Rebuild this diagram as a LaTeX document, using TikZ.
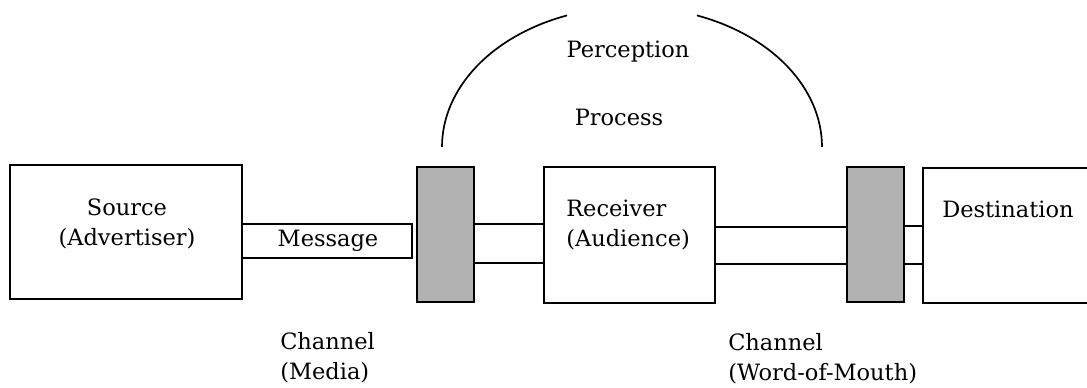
\documentclass[tikz,border=0pt]{standalone}
\usepackage{fontspec}
\setmainfont{DejaVu Serif}

\tikzset{
  box/.style={draw, line width=0.9pt, minimum width={#1}, minimum height={136*0.025cm}, inner sep=0pt},
  filter/.style={draw, line width=1.5pt, fill=black!30, minimum width={57*0.025cm}, minimum height={135*0.025cm}, inner sep=0pt},
  txt/.style={inner sep=0pt, font=\fontsize{16}{21.3}\selectfont}
}

\begin{document}
\begin{tikzpicture}[x=0.025cm, y=-0.025cm]
      % Picture size (pixels of the scan)
      \useasboundingbox (0,0) rectangle (1087,388);
      \clip (0,0) rectangle (1087,388);

      % Blocks of the chain
      \node[box=232*0.025cm, minimum height={134*0.025cm}] (source) at (126,232) {};
      \node[box=170*0.025cm, minimum height={34*0.025cm}] (message) at (327,241) {};
      \node[filter] (lfilter) at (445.5,234.5) {};
      \node[box=171*0.025cm] (receiver) at (629.5,235) {};
      \node[filter] (rfilter) at (875.5,234.5) {};
      \node[box=200*0.025cm, minimum height={135*0.025cm}] (dest) at (1023,235.5) {};

      % Double lines between the blocks
      \foreach \y in {224,263} {
        \draw[line width=0.9pt] (lfilter.east |- 0,\y) -- (receiver.west |- 0,\y);
      }
      \foreach \y in {227,264} {
        \draw[line width=0.9pt] (receiver.east |- 0,\y) -- (rfilter.west |- 0,\y);
      }
      \foreach \y in {226,264} {
        \draw[line width=0.9pt] (rfilter.east |- 0,\y) -- (dest.west |- 0,\y);
      }

      % Perception arc over the receiver
      \coordinate (arcl) at (442,147);
      \coordinate (arcr) at (822,147);
      \draw[line width=1.2pt] (arcl) arc[start angle=180, end angle=110, x radius=190*0.025cm, y radius=140*0.025cm];
      \draw[line width=1.2pt] (arcr) arc[start angle=0, end angle=70, x radius=190*0.025cm, y radius=140*0.025cm];

      % Labels
      \node[txt, align=center] (sourcetxt) at (127,224) {Source\\(Advertiser)};
      \node[txt] (messagetxt) at (328,241) {Message};
      \node[txt, align=left, anchor=west] (receivertxt) at (566,225) {Receiver\\(Audience)};
      \node[txt, anchor=base west] (desttxt) at (942,217) {Destination};
      \node[txt, anchor=base] (perception) at (628,57) {Perception};
      \node[txt, anchor=base] (process) at (619,125) {Process};
      \node[txt, align=left, anchor=base west] (media) at (280,379) {Channel\\(Media)};
      \node[txt, align=left, anchor=base west] (wom) at (728,380) {Channel\\(Word-of-Mouth)};
\end{tikzpicture}
\end{document}
